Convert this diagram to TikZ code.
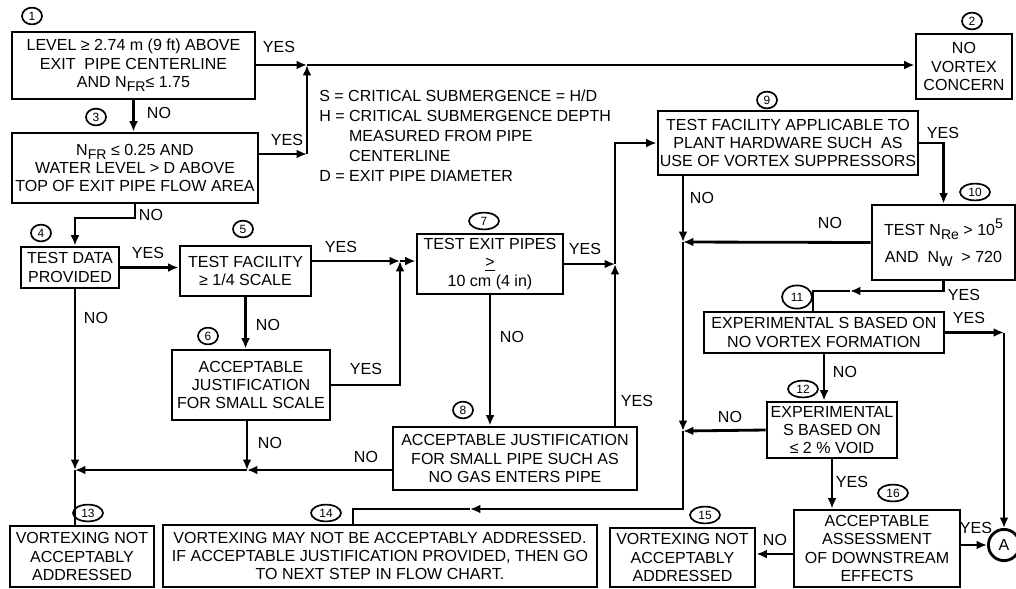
\documentclass[tikz,border=0pt]{standalone}
\usepackage{fontspec}
\setmainfont{Liberation Sans}
\usetikzlibrary{arrows.meta,positioning,shapes.geometric,calc}
\newcommand\boxfont{\fontsize{11.4}{13}\selectfont}
\newcommand\numfont{\fontsize{8.5}{9}\selectfont}
\newcommand\lo[1]{\raisebox{-0.5ex}{\fontsize{10}{10}\selectfont #1}}
\newcommand\hi[1]{\raisebox{0.9ex}{\fontsize{10}{10}\selectfont #1}}

\begin{document}
\begin{tikzpicture}[
  x=0.025cm,y=-0.025cm,
  box/.style={draw,line width=2pt,align=center,inner sep=1pt,font=\boxfont},
  sz/.style 2 args={minimum width=#1*0.025cm,minimum height=#2*0.025cm},
  num/.style={draw,ellipse,line width=1.2pt,inner sep=0pt,minimum width=0.5cm,minimum height=0.42cm,font=\numfont},
  num2/.style={num,minimum width=0.75cm},
  lbl/.style={inner sep=0pt,font=\boxfont},
  arrow/.style={-{Latex[length=2.6mm,width=2.2mm]},line width=2pt},
  link/.style={line width=2pt}
]
\useasboundingbox (0,0) rectangle (1016,588);

% decision and result boxes
\node[box,sz={243}{67}] (b1) at (133.5,65.5) {LEVEL ≥ 2.74 m (9 ft) ABOVE\\EXIT\ \ PIPE CENTERLINE\\AND N\lo{FR}≤ 1.75};
\node[box,sz={96}{65}] (b2) at (964,66.5) {NO\\VORTEX\\CONCERN};
\node[box,sz={246}{70}] (b3) at (135,168) {N\lo{FR} ≤ 0.25 AND\\WATER LEVEL > D ABOVE\\TOP OF EXIT PIPE FLOW AREA};
\node[box,sz={98}{41}] (b4) at (70,267.5) {TEST DATA\\PROVIDED};
\node[box,sz={131}{50}] (b5) at (245.5,271) {TEST FACILITY\\≥ 1/4 SCALE};
\node[box,sz={158}{70}] (b6) at (251,385) {ACCEPTABLE\\JUSTIFICATION\\FOR SMALL SCALE};
\node[box,sz={146}{60}] (b7) at (490,264) {TEST EXIT PIPES\\\underline{>}\\10 cm (4 in)};
\node[box,sz={244}{63}] (b8) at (515,458.5) {ACCEPTABLE JUSTIFICATION\\FOR SMALL PIPE SUCH AS\\NO GAS ENTERS PIPE};
\node[box,sz={260}{64}] (b9) at (788,143) {TEST FACILITY APPLICABLE TO\\PLANT HARDWARE SUCH\ \ AS\\USE OF VORTEX SUPPRESSORS};
\node[box,sz={143}{75}] (b10) at (943.5,242.5) {TEST N\lo{Re} > 10\hi{5}\\[6pt]AND\ \ N\lo{W}\ \ > 720};
\node[box,sz={240}{41}] (b11) at (824,332.5) {EXPERIMENTAL S BASED ON\\NO VORTEX FORMATION};
\node[box,sz={130}{56}] (b12) at (832,430) {EXPERIMENTAL\\S BASED ON\\≤ 2 \% VOID};
\node[box,sz={144}{61}] (b13) at (82,556.5) {VORTEXING NOT\\ACCEPTABLY\\ADDRESSED};
\node[box,sz={434}{62}] (b14) at (380,556) {VORTEXING MAY NOT BE ACCEPTABLY ADDRESSED.\\IF ACCEPTABLE JUSTIFICATION PROVIDED, THEN GO\\TO NEXT STEP IN FLOW CHART.};
\node[box,sz={145}{59}] (b15) at (682.5,557.5) {VORTEXING NOT\\ACCEPTABLY\\ADDRESSED};
\node[box,sz={166}{77}] (b16) at (877,548.5) {ACCEPTABLE\\ASSESSMENT\\OF DOWNSTREAM\\EFFECTS};
\node[draw,circle,line width=2pt,minimum size=0.78cm,inner sep=0pt,font=\boxfont] (A) at (1004,545) {A};

% step numbers
\node[num] (n1) at (32,16) {1};
\node[num] (n2) at (972,21) {2};
\node[num] (n3) at (96,117) {3};
\node[num] (n4) at (41,233) {4};
\node[num] (n5) at (243,229) {5};
\node[num] (n6) at (208,336) {6};
\node[num2] (n7) at (484,221) {7};
\node[num] (n8) at (463,410) {8};
\node[num] (n9) at (767,100) {9};
\node[num2] (n10) at (975,192) {10};
\node[num2,minimum height=0.58cm] (n11) at (797,297) {11};
\node[num2] (n12) at (803,389) {12};
\node[num2] (n13) at (88,513) {13};
\node[num2] (n14) at (326,513) {14};
\node[num2] (n15) at (705,515) {15};
\node[num2] (n16) at (893,493) {16};

% definitions
\node[lbl,anchor=north west,align=left,font=\fontsize{11.4}{14.2}\selectfont] (defs) at (319,90)
  {S = CRITICAL SUBMERGENCE = H/D\\H = CRITICAL SUBMERGENCE DEPTH\\\phantom{H = }MEASURED FROM PIPE\\\phantom{H = }CENTERLINE\\D = EXIT PIPE DIAMETER};

% junctions
\coordinate (j1) at (307,65);
\coordinate (c3) at (307,154);
\coordinate (t4) at (75,218);
\coordinate (k4) at (75,470);
\coordinate (k6) at (247,470);
\coordinate (j7) at (400,261);
\coordinate (j8) at (615,264);
\coordinate (j9) at (683,242);
\coordinate (j12) at (683,431);
\coordinate (m14) at (470,509);
\coordinate (e14) at (353,509);
\coordinate (m11) at (850,291);
\coordinate (e11) at (813,291);
\coordinate (c11) at (b11.east -| A);
\coordinate (j16) at (794,554);

% connectors
\draw[arrow] (b1.east |- j1) -- (j1);
\draw[arrow] (j1) -- (j1 -| b2.west);
\draw[arrow] (b1.south) -- (b1.south |- b3.north);
\draw[arrow] (b3.east |- c3) -- (c3);
\draw[arrow] (c3) -- (j1);
\draw[arrow] (b3.south) |- (t4) -- (t4 |- b4.north);
\draw[arrow] (b4.east) -- (b4.east -| b5.west);
\draw[arrow] (t4 |- b4.south) -- (k4);
\draw[link] (k4) -- (k4 |- b13.north);
\draw[arrow] (b5.south) -- (b5.south |- b6.north);
\draw[arrow] (b6.south -| k6) -- (k6);
\draw[arrow] (b8.west |- k6) -- (k6);
\draw[arrow] (k6) -- (k4);
\draw[arrow] (b5.east |- j7) -- (j7);
\draw[arrow] (b6.east) -| (j7);
\draw[arrow] (j7) -- (j7 -| b7.west);
\draw[arrow] (b7.south) -- (b7.south |- b8.north);
\draw[arrow] (b7.east |- j8) -- (j8);
\draw[arrow] (b8.north -| j8) -- (j8);
\draw[arrow] (j8) |- (b9.west);
\draw[arrow] (b9.east) -| (b10.north);
\draw[arrow] (b9.south -| j9) -- (j9);
\draw[arrow] (b10.west) -- (j9);
\draw[arrow] (j9) -- (j12);
\draw[arrow] (b12.west) -- (j12);
\draw[arrow] (j12) |- (m14);
\draw[link] (m14) -- (e14) -- (e14 |- b14.north);
\draw[arrow] (b10.south) |- (m11);
\draw[link] (m11) -- (e11) -- (e11 |- b11.north);
\draw[arrow] (b11.east) -- (c11);
\draw[arrow] (c11) -- (A.north);
\draw[arrow] (b11.south) -- (b11.south |- b12.north);
\draw[arrow] (b12.south) -- (b12.south |- b16.north);
\draw[arrow] (j16) -- (j16 -| b15.east);
\draw[arrow] (b16.east |- A) -- (A.west);

% connector labels
\node[lbl] (y1) at (279,47) {YES};
\node[lbl] (no1) at (159,113) {NO};
\node[lbl] (y3) at (287,140) {YES};
\node[lbl] (no3) at (151,215) {NO};
\node[lbl] (y4) at (148,253) {YES};
\node[lbl] (no4) at (96,318) {NO};
\node[lbl] (y5) at (341,247) {YES};
\node[lbl] (no5) at (268,325) {NO};
\node[lbl] (y6) at (366,369) {YES};
\node[lbl] (no6) at (270,443) {NO};
\node[lbl] (no8) at (366,457) {NO};
\node[lbl] (no7) at (512,337) {NO};
\node[lbl] (y7) at (585,249) {YES};
\node[lbl] (y8) at (637,401) {YES};
\node[lbl] (y9) at (943,133) {YES};
\node[lbl] (no9) at (702,198) {NO};
\node[lbl] (no10) at (830,223) {NO};
\node[lbl] (y10) at (964,295) {YES};
\node[lbl] (y11) at (969,318) {YES};
\node[lbl] (no11) at (845,372) {NO};
\node[lbl] (no12) at (730,417) {NO};
\node[lbl] (y12) at (852,482) {YES};
\node[lbl] (no16) at (775,540) {NO};
\node[lbl] (y16) at (976,528) {YES};
\end{tikzpicture}
\end{document}
